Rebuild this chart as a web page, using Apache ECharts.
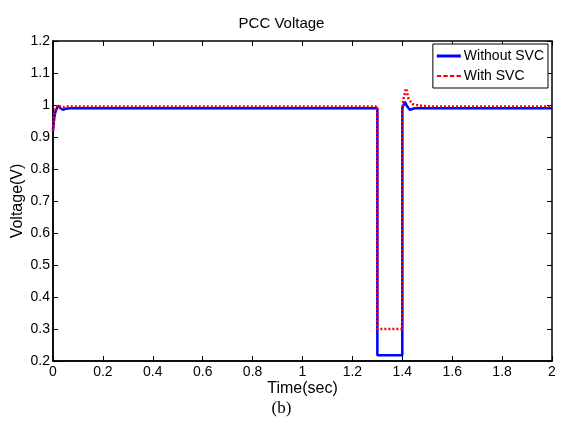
<!DOCTYPE html>
<html><head><meta charset="utf-8">
<script src="https://cdn.jsdelivr.net/npm/echarts@6/dist/echarts.min.js"></script>
<style>html,body{margin:0;padding:0;background:#fff}#c{width:563px;height:426px}</style>
</head><body><div id="c"></div>
<script>
var timeWithout = [0, 0.005, 0.01, 0.02, 0.03, 0.04, 0.05, 0.07, 1.3, 1.3, 1.4, 1.4, 1.41, 1.42, 1.43, 1.45, 1.5, 2.0];
var voltWithout = [0.92, 0.96, 0.98, 0.998, 0.99, 0.985, 0.988, 0.99, 0.99, 0.218, 0.218, 0.99, 1.01, 0.995, 0.985, 0.99, 0.99, 0.99];
var timeWith = [0, 0.005, 0.01, 0.02, 0.03, 0.04, 0.06, 1.3, 1.3, 1.4, 1.4, 1.405, 1.415, 1.425, 1.44, 1.47, 1.52, 2.0];
var voltWith = [0.92, 0.97, 0.99, 1.0, 0.995, 0.993, 0.995, 0.995, 0.30, 0.30, 0.99, 1.02, 1.052, 1.02, 1.003, 0.998, 0.995, 0.995];
var xTicks = ['0','0.2','0.4','0.6','0.8','1','1.2','1.4','1.6','1.8','2'];
var yTicks = ['0.2','0.3','0.4','0.5','0.6','0.7','0.8','0.9','1','1.1','1.2'];
function pairs(xs, ys){ return xs.map(function(x,i){return [x, ys[i]];}); }
var font = 'Liberation Sans, Arial, sans-serif';
var chart = echarts.init(document.getElementById('c'));
var tickStyle = {show:true, inside:true, length:5, lineStyle:{color:'#000', width:1}};
chart.setOption({
  animation:false,
  title:{text:'PCC Voltage', left:'center', top:11, textStyle:{fontFamily:font, fontSize:15, fontWeight:'normal', color:'#000'}},
  grid:{left:53, right:11, top:41, bottom:65, show:true, borderColor:'#000', borderWidth:1.5, containLabel:false, outerBoundsMode:'none'},
  legend:{right:15, top:44, orient:'vertical', itemWidth:24, itemHeight:3, itemGap:6,
    backgroundColor:'#fff', borderColor:'#000', borderWidth:1, borderRadius:0, padding:[5,4,5,4],
    textStyle:{fontFamily:font, fontSize:14, color:'#000', padding:[0,0,0,-2]},
    data:[{name:'Without SVC', icon:'rect'},{name:'With SVC', icon:'path://M0,0h2v1h-2z M3,0h2v1h-2z M6,0h2v1h-2z M9,0h2v1h-2z'}]},
  xAxis:[{type:'value', position:'bottom', min:0, max:2, interval:0.2, name:'Time(sec)', nameLocation:'middle', nameGap:20, nameMoveOverlap:false,
    nameTextStyle:{fontFamily:font, fontSize:16, color:'#000'},
    axisLine:{show:true, onZero:false, lineStyle:{color:'#000', width:1.5}}, axisTick:tickStyle, splitLine:{show:false},
    axisLabel:{fontFamily:font, fontSize:14, color:'#000', margin:4, formatter:function(v){return xTicks[Math.round(v/0.2)];}}},
    {type:'value', position:'top', min:0, max:2, interval:0.2, axisLine:{show:false, onZero:false}, axisTick:tickStyle, axisLabel:{show:false}, splitLine:{show:false}}],
  yAxis:[{type:'value', position:'left', min:0.2, max:1.2, interval:0.1, name:'Voltage(V)', nameLocation:'middle', nameGap:27, nameMoveOverlap:false,
    nameTextStyle:{fontFamily:font, fontSize:16, color:'#000'},
    axisLine:{show:true, onZero:false, lineStyle:{color:'#000', width:1.5}}, axisTick:tickStyle, splitLine:{show:false},
    axisLabel:{fontFamily:font, fontSize:14, color:'#000', margin:3, formatter:function(v){return yTicks[Math.round((v-0.2)/0.1)];}}},
    {type:'value', position:'right', min:0.2, max:1.2, interval:0.1, axisLine:{show:false, onZero:false}, axisTick:tickStyle, axisLabel:{show:false}, splitLine:{show:false}}],
  series:[
    {name:'Without SVC', type:'line', xAxisIndex:0, yAxisIndex:0, data:pairs(timeWithout, voltWithout), showSymbol:false, symbol:'none', color:'#0000ff', lineStyle:{color:'#0000ff', width:2.5}},
    {name:'With SVC', type:'line', xAxisIndex:0, yAxisIndex:0, data:pairs(timeWith, voltWith), showSymbol:false, symbol:'none', color:'#ff0000', lineStyle:{color:'#ff0000', width:2.5, type:[2,2]}}
  ],
  graphic:[{type:'text', left:'center', top:400, style:{text:'(b)', font:'17px "Liberation Serif", "Times New Roman", serif', fill:'#000'}}]
});
</script></body></html>
